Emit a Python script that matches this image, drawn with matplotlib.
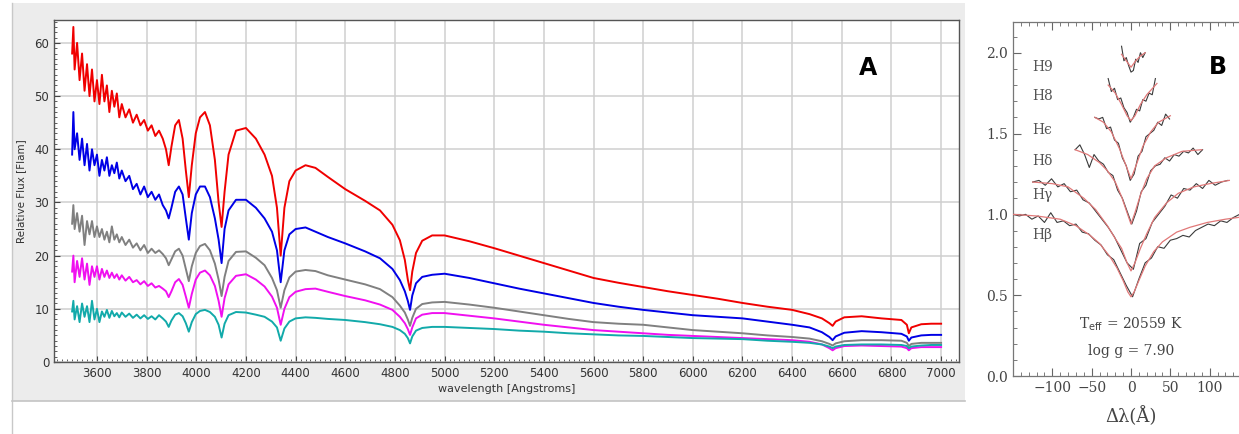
import numpy as np
import matplotlib
matplotlib.use("Agg")
import matplotlib.pyplot as plt
from matplotlib.patches import Rectangle
from matplotlib.lines import Line2D
from matplotlib.ticker import MultipleLocator, FormatStrFormatter

# ---------------- panel A: five white-dwarf spectra ----------------
wave = [3500, 3505, 3510, 3520, 3530, 3540, 3550, 3560, 3570, 3580, 3590, 3600, 3610, 3620,
        3630, 3640, 3650, 3660, 3670, 3680, 3690, 3700, 3715, 3730, 3745, 3760, 3775, 3790,
        3805, 3820, 3835, 3850, 3865,
        3878, 3889, 3900, 3915, 3930, 3945, 3958, 3970, 3982, 3998, 4015, 4035, 4055, 4075,
        4090, 4102, 4114, 4130, 4160, 4200, 4240, 4275, 4305, 4325, 4340, 4355, 4375, 4400,
        4440, 4480, 4530, 4600, 4680, 4740, 4790, 4820, 4840, 4852, 4861, 4870, 4885, 4910,
        4950, 5000,
        5100, 5200, 5300, 5400, 5500, 5600, 5700, 5800, 5900, 6000, 6100, 6200, 6300, 6400,
        6470, 6520, 6550, 6563, 6575, 6610, 6680, 6760, 6840, 6862, 6870, 6880, 6920, 6960, 7000]

flux_red = [58, 63, 55, 60, 53, 58, 51, 56, 50, 55, 49, 53, 48.5, 54,
            49, 52, 47, 51, 48, 50.5, 46, 48.5, 46, 47.5, 45, 46.5, 44.5, 45.5,
            43.5, 44.5, 42.5, 43.5, 42,
            40, 37, 40.5, 44.5, 45.5, 42, 36, 31, 37, 43, 46, 47, 44.5, 38,
            30, 25.4, 32, 39, 43.5, 44, 42, 39, 35, 29, 20, 29, 34, 36,
            37, 36.5, 34.8, 32.5, 30.3, 28.5, 25.8, 22.9, 19.2, 15.5, 13.5, 17, 20.5, 22.8,
            23.8, 23.8,
            22.7, 21.4, 20, 18.6, 17.2, 15.8, 14.9, 14.1, 13.3, 12.6, 11.9, 11.1, 10.4, 9.8,
            9.0, 8.2, 7.3, 6.8, 7.6, 8.4, 8.6, 8.2, 7.9, 7.0, 5.4, 6.5, 7.1, 7.2, 7.2]

flux_blue = [39, 47, 40, 43, 38, 42, 37, 41, 36, 40, 37, 39, 35, 38,
             36, 38.5, 35, 37, 35.5, 37.5, 34.5, 36, 34, 35, 32.5, 33.5, 31.5, 33,
             31, 32, 30.5, 31.5, 29.5,
             28.5, 27, 29, 32, 33, 31.5, 27, 23, 28, 31.5, 33, 33, 31, 27,
             23, 18.6, 25, 28.5, 30.5, 30.5, 29, 27, 24.5, 21, 15, 21, 24, 25,
             25.3, 24.5, 23.5, 22.3, 20.8, 19.5, 17.5, 15.4, 13.3, 11.5, 9.8, 12.5, 14.8, 16,
             16.4, 16.6,
             15.8, 14.8, 13.8, 12.9, 12, 11.1, 10.4, 9.8, 9.3, 8.8, 8.5, 8.2, 7.6, 7.0,
             6.5, 5.6, 4.7, 4.1, 4.8, 5.5, 5.8, 5.6, 5.3, 4.8, 4.0, 4.6, 5.0, 5.1, 5.1]

flux_gray = [26, 29.5, 25, 28, 24.5, 27.5, 22, 26.5, 24, 26.5, 23.5, 25.5, 23.5, 25,
             23, 24.5, 22.5, 25.5, 23, 24, 22.5, 23.5, 22, 23, 21.5, 22.3, 21, 22,
             20.5, 21.3, 20.5, 21, 20.3,
             19.5, 18.2, 19.3, 20.8, 21.3, 20, 17.5, 15.2, 18, 20.5, 21.8, 22.2, 21, 18.5,
             15.5, 12.4, 16, 19, 20.7, 20.8, 19.6, 18.2, 15.8, 13.5, 10.2, 13.5, 15.9, 17,
             17.3, 17.1, 16.3, 15.5, 14.6, 13.7, 12.2, 10.6, 9.3, 8.0, 6.8, 8.3, 10, 10.9,
             11.2, 11.3,
             10.8, 10.2, 9.5, 8.8, 8.1, 7.5, 7.2, 7.0, 6.5, 6.0, 5.7, 5.4, 5.0, 4.7,
             4.4, 3.9, 3.4, 3.1, 3.5, 3.9, 4.1, 4.1, 4.0, 3.6, 3.0, 3.4, 3.6, 3.6, 3.6]

flux_magenta = [17, 20, 15, 19, 16, 19.5, 15.5, 18.5, 14.5, 18, 16, 18, 15.5, 17.5,
                16, 17.2, 15.8, 16.8, 15.8, 16.5, 15.5, 16.3, 15.3, 16, 15, 15.4, 14.6, 15.2,
                14.3, 14.8, 14, 14.3, 13.8,
                13.3, 12.2, 13.3, 15, 15.6, 14.5, 12.3, 10.2, 12.8, 15.5, 16.8, 17.2, 16.3, 14.3,
                11.5, 8.5, 12, 14.6, 16.2, 16.5, 15.5, 14.2, 12.3, 10.2, 7.0, 10, 12.2, 13.2,
                13.7, 13.8, 13.2, 12.4, 11.6, 10.8, 9.8, 8.5, 7.3, 6.2, 5.1, 6.5, 8.2, 8.9,
                9.2, 9.2,
                8.7, 8.2, 7.6, 7.0, 6.5, 6.0, 5.7, 5.4, 5.1, 4.9, 4.7, 4.5, 4.3, 4.1,
                3.8, 3.3, 2.6, 2.2, 2.6, 3.0, 3.1, 3.0, 2.9, 2.6, 2.2, 2.6, 2.8, 2.8, 2.8]

flux_cyan = [9.5, 11.5, 8, 10.5, 7.5, 11, 8.5, 10.5, 7.5, 11.5, 8, 10, 7.5, 9.5,
             8.5, 9.8, 8.3, 9.6, 8.6, 9.2, 8.4, 9.3, 8.5, 9.1, 8.3, 8.9, 8.2, 8.8,
             8.1, 8.6, 8.0, 8.8, 8.2,
             7.6, 6.6, 7.8, 8.9, 9.2, 8.6, 7.3, 5.7, 7.5, 9.0, 9.6, 9.8, 9.4, 8.5,
             7.0, 4.6, 7.2, 8.8, 9.4, 9.3, 8.9, 8.5, 7.6, 6.5, 4.0, 6.3, 7.6, 8.2,
             8.4, 8.3, 8.1, 7.9, 7.5, 7.1, 6.6, 6.0, 5.3, 4.5, 3.5, 4.8, 5.9, 6.4,
             6.6, 6.6,
             6.4, 6.2, 5.9, 5.7, 5.4, 5.2, 5.0, 4.9, 4.7, 4.5, 4.4, 4.3, 4.0, 3.8,
             3.6, 3.3, 2.9, 2.6, 2.9, 3.2, 3.3, 3.3, 3.2, 3.0, 2.6, 2.9, 3.1, 3.2, 3.2]

# ---------------- panel B: Balmer line fits (observed vs model) ----------------
lines_b = ["Hβ", "Hγ", "Hδ", "Hϵ", "H8", "H9"]

hb_obs_x = np.arange(-150, 147, 8)
hb_obs = [1.00, 0.99, 1.00, 0.97, 0.99, 0.95, 1.01, 0.95, 0.96, 0.93, 0.94, 0.89, 0.88,
          0.84, 0.81, 0.75, 0.72, 0.64, 0.56, 0.49, 0.60, 0.70, 0.73, 0.80, 0.79, 0.84,
          0.85, 0.87, 0.86, 0.90, 0.92, 0.94, 0.93, 0.96, 0.95, 0.98, 1.00, 0.98]
hb_mod_x = [-150, -120, -90, -70, -52, -40, -27, -18, -10, -4, 0, 4, 10, 18, 29, 40, 58, 75, 97, 120, 150]
hb_mod = [1.0, 0.99, 0.97, 0.93, 0.87, 0.82, 0.74, 0.67, 0.59, 0.52, 0.49, 0.52, 0.59, 0.68,
          0.77, 0.83, 0.89, 0.92, 0.95, 0.97, 0.99]

hg_obs_x = np.arange(-125, 124, 8)
hg_obs = [1.20, 1.21, 1.18, 1.22, 1.17, 1.19, 1.14, 1.15, 1.09, 1.07, 1.02, 0.97, 0.92,
          0.86, 0.78, 0.70, 0.66, 0.82, 0.85, 0.95, 1.00, 1.05, 1.12, 1.10, 1.16, 1.15,
          1.19, 1.16, 1.21, 1.18, 1.20, 1.21]
hg_mod_x = [-125, -100, -80, -60, -45, -30, -20, -12, -5, 0, 5, 12, 20, 30, 45, 60, 80, 100, 125]
hg_mod = [1.20, 1.19, 1.17, 1.10, 1.03, 0.93, 0.85, 0.79, 0.70, 0.65, 0.70, 0.79, 0.88,
          0.98, 1.07, 1.13, 1.17, 1.19, 1.21]

hd_obs_x = np.arange(-71, 92, 6)
hd_obs = [1.40, 1.43, 1.37, 1.29, 1.37, 1.33, 1.31, 1.26, 1.24, 1.15, 1.10, 1.02, 0.94,
          1.02, 1.14, 1.18, 1.27, 1.30, 1.31, 1.35, 1.33, 1.37, 1.36, 1.39, 1.38, 1.41,
          1.37, 1.40]
hd_mod_x = [-71, -55, -40, -30, -20, -12, -5, 0, 5, 12, 20, 30, 45, 65, 90]
hd_mod = [1.40, 1.37, 1.32, 1.27, 1.20, 1.11, 1.01, 0.94, 1.01, 1.12, 1.22, 1.30, 1.35, 1.39, 1.40]

he_obs_x = np.arange(-46, 50, 5)
he_obs = [1.60, 1.59, 1.60, 1.53, 1.54, 1.46, 1.44, 1.35, 1.30, 1.21, 1.25, 1.36, 1.39,
          1.48, 1.50, 1.52, 1.57, 1.55, 1.62, 1.59]
he_mod_x = [-46, -35, -25, -15, -7, 0, 7, 15, 25, 35, 50]
he_mod = [1.60, 1.57, 1.51, 1.41, 1.31, 1.22, 1.31, 1.42, 1.51, 1.57, 1.61]

h8_obs_x = np.arange(-29, 32, 4)
h8_obs = [1.84, 1.76, 1.78, 1.71, 1.72, 1.66, 1.63, 1.57, 1.60, 1.65, 1.64, 1.71, 1.70,
          1.75, 1.74, 1.84]
h8_mod_x = [-29, -20, -12, -5, 0, 5, 12, 20, 33]
h8_mod = [1.80, 1.75, 1.68, 1.61, 1.58, 1.61, 1.68, 1.74, 1.81]

h9_obs_x = np.arange(-12, 19, 3)
h9_obs = [2.04, 1.95, 1.97, 1.92, 1.88, 1.89, 1.96, 1.94, 2.00, 1.97, 2.00]
h9_mod_x = [-12, -6, 0, 6, 12, 18]
h9_mod = [1.99, 1.95, 1.91, 1.95, 1.98, 2.00]

label_y = [0.87, 1.12, 1.33, 1.52, 1.73, 1.91]

W, H = 1239, 434
fig = plt.figure(figsize=(W / 100, H / 100), dpi=100)

# grey frame of the spectrum viewer screenshot
fig.patches.append(Rectangle((12 / W, 1 - 401 / H), (965 - 12) / W, (401 - 3) / H,
                             transform=fig.transFigure, facecolor="#ececec",
                             edgecolor="none", zorder=-10))
fig.lines.append(Line2D([12 / W, 12 / W], [0, 1 - 3 / H], transform=fig.transFigure,
                        color="#c8c8c8", lw=1.0, zorder=-9))
fig.lines.append(Line2D([12 / W, 965 / W], [1 - 401 / H, 1 - 401 / H],
                        transform=fig.transFigure, color="#c4c4c4", lw=1.2, zorder=-9))

axA = fig.add_axes([54 / W, 1 - 362 / H, (959 - 54) / W, (362 - 19.5) / H])
axA.set_facecolor("white")
for f, c in [(flux_red, "#f00000"), (flux_blue, "#0000e6"), (flux_gray, "#808080"),
             (flux_magenta, "#f010f0"), (flux_cyan, "#12aaaa")]:
    axA.plot(wave, f, color=c, lw=1.4, zorder=3)

axA.set_xlim(3427, 7072)
axA.set_ylim(0, 64.4)
axA.set_xticks(range(3600, 7001, 200))
axA.set_yticks(range(0, 61, 10))
axA.xaxis.set_minor_locator(MultipleLocator(20))
axA.yaxis.set_minor_locator(MultipleLocator(1))
axA.grid(True, which="major", color="#cfcfcf", lw=1.1, zorder=0)
axA.tick_params(which="both", direction="in", colors="#444444", labelsize=8.5,
                labelcolor="#333333")
axA.tick_params(which="major", length=4)
axA.tick_params(which="minor", length=2)
for s in axA.spines.values():
    s.set_color("#555555")
    s.set_linewidth(1.0)
axA.set_xlabel("wavelength [Angstroms]", fontsize=8, color="#333333", labelpad=3)
axA.set_ylabel("Relative Flux [Flam]", fontsize=7.5, color="#333333", labelpad=6)
axA.text(0.899, 0.858, "A", transform=axA.transAxes, fontsize=17, fontweight="bold",
         ha="center", va="center", color="black")

# ---------------- panel B ----------------
axB = fig.add_axes([1013 / W, 1 - 376 / H, (1249 - 1013) / W, (376 - 22) / H])
obs = [(hb_obs_x, hb_obs), (hg_obs_x, hg_obs), (hd_obs_x, hd_obs),
       (he_obs_x, he_obs), (h8_obs_x, h8_obs), (h9_obs_x, h9_obs)]
mods = [(hb_mod_x, hb_mod), (hg_mod_x, hg_mod), (hd_mod_x, hd_mod),
        (he_mod_x, he_mod), (h8_mod_x, h8_mod), (h9_mod_x, h9_mod)]
for (ox, oy), (mx, my) in zip(obs, mods):
    axB.plot(ox, oy, color="#3a3a3a", lw=0.8, zorder=3)
    axB.plot(mx, my, color="#e07878", lw=0.9, zorder=4)
for name, ly in zip(lines_b, label_y):
    axB.text(-126, ly, name, fontsize=10, color="#555555", family="DejaVu Serif",
             ha="left", va="center")

axB.set_xlim(-150, 150)
axB.set_ylim(0, 2.19)
axB.set_xticks([-100, -50, 0, 50, 100])
axB.set_yticks([0, 0.5, 1.0, 1.5, 2.0])
axB.xaxis.set_minor_locator(MultipleLocator(10))
axB.yaxis.set_minor_locator(MultipleLocator(0.1))
axB.yaxis.set_major_formatter(FormatStrFormatter("%.1f"))
axB.tick_params(which="both", direction="in", top=True, right=True, colors="#666666",
                labelcolor="#444444", labelsize=10)
axB.tick_params(which="major", length=6)
axB.tick_params(which="minor", length=3)
for lab in axB.get_xticklabels() + axB.get_yticklabels():
    lab.set_family("DejaVu Serif")
for s in axB.spines.values():
    s.set_color("#777777")
    s.set_linewidth(0.9)
axB.set_xlabel("Δλ(Å)", fontsize=13, color="#444444", family="DejaVu Serif", labelpad=8)
axB.text(0, 0.32, r"T$_{\rm eff}$ = 20559 K", fontsize=10, color="#444444",
         family="DejaVu Serif", ha="center", va="center")
axB.text(0, 0.155, "log g = 7.90", fontsize=10, color="#444444", family="DejaVu Serif",
         ha="center", va="center")
axB.text(111, 1.91, "B", fontsize=17, fontweight="bold", ha="center", va="center",
         color="black")

fig.savefig("out.png", dpi=100)
